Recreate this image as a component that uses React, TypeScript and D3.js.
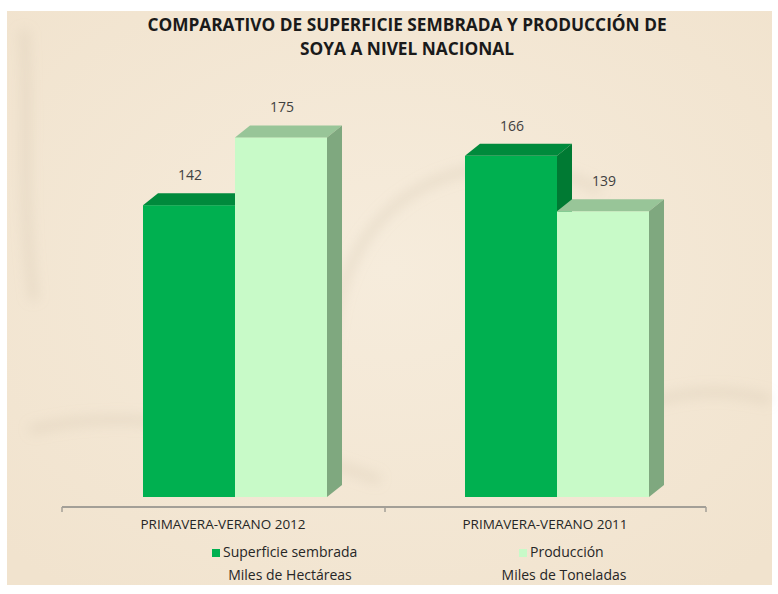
import React from "react";
import * as d3 from "d3";

const categories = ["PRIMAVERA-VERANO 2012", "PRIMAVERA-VERANO 2011"];
const seriesNames = ["Superficie sembrada", "Producción"];
const seriesUnits = ["Miles de Hectáreas", "Miles de Toneladas"];
const superficie = [142, 166];
const produccion = [175, 139];
const titleLines = ["COMPARATIVO DE SUPERFICIE SEMBRADA Y PRODUCCIÓN DE", "SOYA A NIVEL NACIONAL"];

const W = 778;
const H = 594;
const DX = 15;
const DY = -12;
const FONT = "'Open Sans', 'Noto Sans', sans-serif";

const faces = [
  { front: "#00b050", top: "#008a3c", side: "#007a33" },
  { front: "#c8fac8", top: "#98c598", side: "#7fa87f" },
];

export default function App() {
  const x = d3.scaleBand<string>().domain(categories).range([62, 706]).padding(0);
  const y = d3.scaleLinear().domain([0, 200]).range([497, 86]);
  const inner = d3.scaleBand<string>().domain(seriesNames).range([-92, 92]).padding(0);
  const values = [superficie, produccion];
  const y0 = y(0);

  const bars: JSX.Element[] = [];
  const labels: JSX.Element[] = [];
  categories.forEach((c, ci) => {
    const center = (x(c) as number) + x.bandwidth() / 2 + 12;
    seriesNames.forEach((s, si) => {
      const v = values[si][ci];
      const x0 = center + (inner(s) as number);
      const x1 = x0 + inner.bandwidth();
      const yt = y(v);
      const f = faces[si];
      bars.push(
        <g key={`${c}-${s}`}>
          <rect x={x0} y={yt} width={x1 - x0} height={y0 - yt} fill={f.front} />
          <polygon
            points={`${x0},${yt} ${x1},${yt} ${x1 + DX},${yt + DY} ${x0 + DX},${yt + DY}`}
            fill={f.top}
          />
          <polygon
            points={`${x1},${yt} ${x1 + DX},${yt + DY} ${x1 + DX},${y0 + DY} ${x1},${y0}`}
            fill={f.side}
          />
        </g>
      );
      labels.push(
        <text
          key={`l-${c}-${s}`}
          x={(x0 + x1) / 2 + 1}
          y={yt + DY - 13}
          textAnchor="middle"
          fontFamily={FONT}
          fontSize={14}
          fill="#404040"
        >
          {v}
        </text>
      );
    });
  });

  const ticks = [62, 385, 706];

  return (
    <svg width={W} height={H} style={{ position: "absolute", left: 0, top: 0 }}>
      <defs>
        <radialGradient id="bg" cx="50%" cy="45%" r="70%">
          <stop offset="0%" stopColor="#f6ecdc" />
          <stop offset="100%" stopColor="#f1e3ce" />
        </radialGradient>
        <filter id="blur" x="-20%" y="-20%" width="140%" height="140%">
          <feGaussianBlur stdDeviation="6" />
        </filter>
      </defs>
      <rect x={0} y={0} width={W} height={H} fill="#ffffff" />
      <rect x={7} y={11} width={W - 13} height={H - 20} fill="url(#bg)" />
      <g fill="none" stroke="#cdbca2" strokeOpacity={0.25} strokeWidth={10} filter="url(#blur)">
        <path d="M330,360 C335,260 380,190 470,170 C520,160 560,170 600,190" />
        <path d="M24,30 C30,120 20,200 34,300" />
        <path d="M30,430 C150,400 260,440 380,480" />
        <path d="M560,440 C640,400 700,380 770,400" />
      </g>
      {titleLines.map((t, i) => (
        <text
          key={t}
          x={407}
          y={31 + i * 24}
          textAnchor="middle"
          fontFamily={FONT}
          fontWeight="bold"
          fontSize={17.3}
          fill="#1a1a1a"
        >
          {t}
        </text>
      ))}
      {bars}
      {labels}
      <line x1={62} x2={706} y1={507} y2={507} stroke="#a39f97" strokeWidth={2} />
      {ticks.map((t) => (
        <line key={t} x1={t} x2={t} y1={507} y2={512} stroke="#a39f97" strokeWidth={1.5} />
      ))}
      {categories.map((c) => (
        <text
          key={c}
          x={(x(c) as number) + x.bandwidth() / 2}
          y={529}
          textAnchor="middle"
          fontFamily={FONT}
          fontSize={13.5}
          fill="#262626"
        >
          {c}
        </text>
      ))}
      {seriesNames.map((s, i) => {
        const lx = i === 0 ? 212 : 519;
        return (
          <g key={s}>
            <rect x={lx} y={549} width={8} height={8} fill={faces[i].front} />
            <text x={lx + 11} y={557} fontFamily={FONT} fontSize={14} fill="#262626">
              {s}
            </text>
            <text
              x={i === 0 ? 290 : 564}
              y={580}
              textAnchor="middle"
              fontFamily={FONT}
              fontSize={14}
              fill="#262626"
            >
              {seriesUnits[i]}
            </text>
          </g>
        );
      })}
    </svg>
  );
}
